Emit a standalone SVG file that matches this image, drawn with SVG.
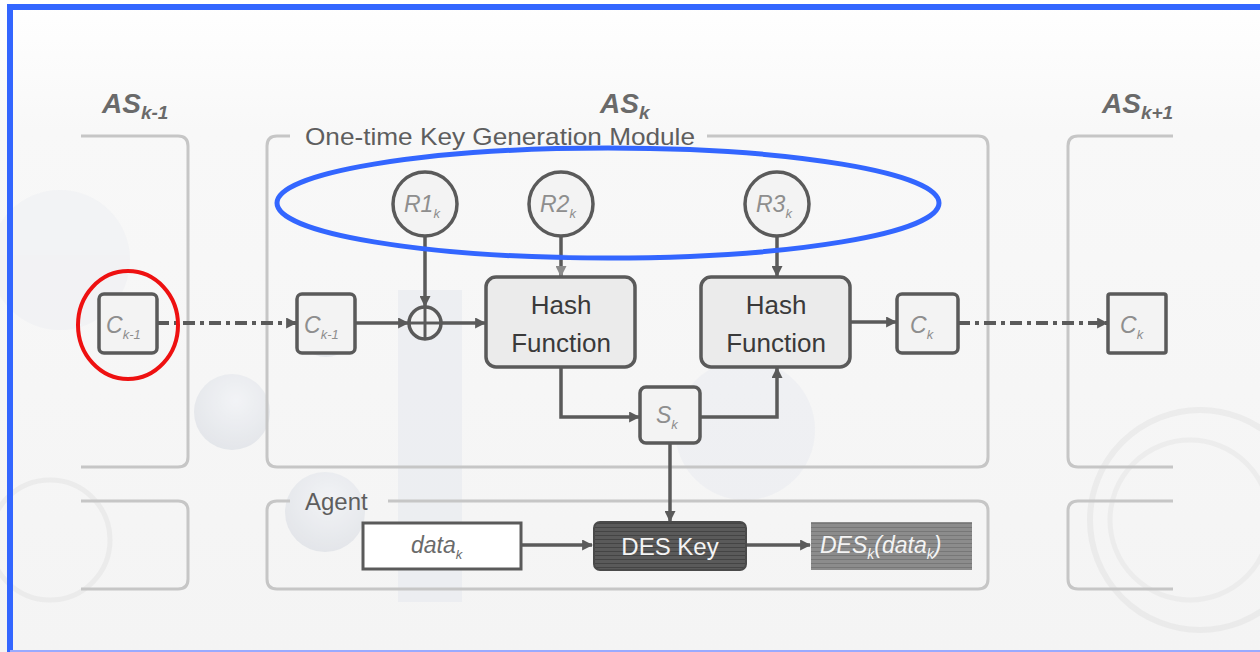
<svg xmlns="http://www.w3.org/2000/svg" width="1260" height="652" viewBox="0 0 1260 652">
<defs>
<linearGradient id="bg" x1="0" y1="0" x2="0" y2="1">
<stop offset="0" stop-color="#ffffff"/>
<stop offset="0.2" stop-color="#f8f8f8"/>
<stop offset="1" stop-color="#f4f4f4"/>
</linearGradient>
<radialGradient id="sph" cx="0.55" cy="0.35" r="0.65">
<stop offset="0" stop-color="#eef1f7"/>
<stop offset="1" stop-color="#cfd4dd"/>
</radialGradient>
<pattern id="stripeDark" width="4" height="4" patternUnits="userSpaceOnUse">
<rect width="4" height="4" fill="#5a5a5a"/>
<rect y="3" width="4" height="1" fill="#444"/>
</pattern>
<pattern id="stripeMid" width="4" height="4" patternUnits="userSpaceOnUse">
<rect width="4" height="4" fill="#8c8c8c"/>
<rect y="3" width="4" height="1" fill="#777"/>
</pattern>
<marker id="ah" viewBox="0 0 10 10" refX="9" refY="5" markerWidth="11" markerHeight="11" markerUnits="userSpaceOnUse" orient="auto">
<path d="M0,0 L10,5 L0,10 z" fill="#5a5a5a"/>
</marker>
<marker id="ahl" viewBox="0 0 10 10" refX="9" refY="5" markerWidth="11" markerHeight="11" markerUnits="userSpaceOnUse" orient="auto">
<path d="M0,0 L10,5 L0,10 z" fill="#8a8a8a"/>
</marker>
</defs>
<style>
.panel{fill:none;stroke:#c6c6c6;stroke-width:3}
.node{fill:#f3f3f3;stroke:#5a5a5a;stroke-width:3.5}
.hash{fill:#ebebeb;stroke:#5a5a5a;stroke-width:3.5}
.sym{font-family:"Liberation Sans",Arial,sans-serif;font-style:italic;fill:#8e8e8e}
.sub{font-size:13px}
.hdr{font-family:"Liberation Sans",Arial,sans-serif;font-style:italic;font-weight:bold;fill:#6a6a6a}
.ttl{font-family:"Liberation Sans",Arial,sans-serif;fill:#5e5e5e;font-size:24px}
.htxt{font-family:"Liberation Sans",Arial,sans-serif;fill:#3a3a3a;font-size:26px;text-anchor:middle}
.conn{fill:none;stroke:#5a5a5a;stroke-width:3.5}
.dd{stroke-dasharray:12 5 4 5;stroke-width:4}
.wt{font-family:"Liberation Sans",Arial,sans-serif;fill:#f4f4f4}
</style>
<rect x="0" y="0" width="1260" height="652" fill="url(#bg)"/>
<g id="background" opacity="0.45">
<rect x="398" y="290" width="64" height="312" fill="#e3e6ee"/>
<circle cx="232" cy="412" r="38" fill="url(#sph)"/>
<circle cx="326" cy="327" r="30" fill="url(#sph)"/>
<circle cx="325" cy="512" r="40" fill="url(#sph)"/>
<circle cx="745" cy="430" r="70" fill="#e6e9ef"/>
<circle cx="60" cy="260" r="70" fill="#eceef2"/>
<circle cx="1200" cy="520" r="110" fill="none" stroke="#e0e0e0" stroke-width="6"/>
<circle cx="1190" cy="520" r="80" fill="none" stroke="#e3e3e3" stroke-width="5"/>
<circle cx="50" cy="540" r="60" fill="none" stroke="#e0e0e0" stroke-width="5"/>
</g>
<g id="frame">
<line x1="7" y1="7" x2="1260" y2="7" stroke="#3366ff" stroke-width="6"/>
<line x1="10" y1="4" x2="10" y2="652" stroke="#3366ff" stroke-width="6"/>
<line x1="10" y1="651" x2="1260" y2="651" stroke="#99aaff" stroke-width="2"/>
</g>
<g id="panels">
<path class="panel" d="M81,136 H178 Q188,136 188,146 V457 Q188,467 178,467 H81"/>
<path class="panel" d="M81,501 H178 Q188,501 188,511 V579 Q188,589 178,589 H81"/>
<path class="panel" d="M290,136 H277 Q267,136 267,146 V457 Q267,467 277,467 H978 Q988,467 988,457 V146 Q988,136 978,136 H707"/>
<path class="panel" d="M290,501 H277 Q267,501 267,511 V579 Q267,589 277,589 H978 Q988,589 988,579 V511 Q988,501 978,501 H388"/>
<path class="panel" d="M1173,136 H1078 Q1068,136 1068,146 V457 Q1068,467 1078,467 H1173"/>
<path class="panel" d="M1173,501 H1078 Q1068,501 1068,511 V579 Q1068,589 1078,589 H1173"/>
</g>
<g id="labels">
<text class="hdr" x="102" y="113" font-size="28">AS<tspan font-size="19" dy="6">k-1</tspan></text>
<text class="hdr" x="600" y="113" font-size="28">AS<tspan font-size="19" dy="6">k</tspan></text>
<text class="hdr" x="1102" y="113" font-size="28">AS<tspan font-size="19" dy="6">k+1</tspan></text>
<text class="ttl" x="305" y="145" textLength="390" lengthAdjust="spacingAndGlyphs">One-time Key Generation Module</text>
<text class="ttl" x="305" y="510">Agent</text>
</g>
<g id="connectors">
<line class="conn dd" x1="157" y1="323" x2="296" y2="323" marker-end="url(#ah)"/>
<line class="conn" x1="355" y1="323" x2="408" y2="323" stroke-width="5" marker-end="url(#ah)"/>
<line class="conn" x1="425" y1="237" x2="425" y2="306" marker-end="url(#ah)"/>
<line class="conn" x1="441" y1="323" x2="485" y2="323" marker-end="url(#ah)"/>
<line class="conn" x1="561" y1="237" x2="561" y2="276" stroke="#999" marker-end="url(#ahl)"/>
<line class="conn" x1="777" y1="237" x2="777" y2="276" marker-end="url(#ah)"/>
<polyline class="conn" points="561,367 561,417 639,417" marker-end="url(#ah)"/>
<polyline class="conn" points="700,417 777,417 777,368" marker-end="url(#ah)"/>
<line class="conn" x1="850" y1="322" x2="896" y2="322" marker-end="url(#ah)"/>
<line class="conn dd" x1="958" y1="323" x2="1107" y2="323" marker-end="url(#ah)"/>
<line class="conn" x1="670" y1="443" x2="670" y2="521" marker-end="url(#ah)"/>
<line class="conn" x1="521" y1="545" x2="592" y2="545" marker-end="url(#ah)"/>
<line class="conn" x1="746" y1="545" x2="810" y2="545" marker-end="url(#ah)"/>
</g>
<g id="node-cprev-left">
<rect class="node" x="99" y="294" width="58" height="59" rx="5"/>
<text class="sym" x="106" y="333" font-size="23">C<tspan class="sub" dy="6">k-1</tspan></text>
</g>
<g id="node-cprev">
<rect class="node" x="297" y="294" width="58" height="59" rx="5"/>
<text class="sym" x="304" y="333" font-size="23">C<tspan class="sub" dy="6">k-1</tspan></text>
</g>
<g id="node-xor">
<circle class="node" cx="425" cy="323" r="16"/>
<line x1="409" y1="323" x2="441" y2="323" stroke="#5a5a5a" stroke-width="3"/>
<line x1="425" y1="307" x2="425" y2="339" stroke="#5a5a5a" stroke-width="3"/>
</g>
<g id="node-r1">
<circle class="node" cx="425" cy="204" r="32"/>
<text class="sym" x="404" y="212" font-size="23">R1<tspan class="sub" dy="6">k</tspan></text>
</g>
<g id="node-r2">
<circle class="node" cx="561" cy="204" r="32"/>
<text class="sym" x="540" y="212" font-size="23">R2<tspan class="sub" dy="6">k</tspan></text>
</g>
<g id="node-r3">
<circle class="node" cx="777" cy="204" r="32"/>
<text class="sym" x="756" y="212" font-size="23">R3<tspan class="sub" dy="6">k</tspan></text>
</g>
<g id="node-hash1">
<rect class="hash" x="486" y="277" width="149" height="90" rx="10"/>
<text class="htxt" x="561" y="314">Hash</text>
<text class="htxt" x="561" y="352">Function</text>
</g>
<g id="node-hash2">
<rect class="hash" x="701" y="277" width="149" height="90" rx="10"/>
<text class="htxt" x="776" y="314">Hash</text>
<text class="htxt" x="776" y="352">Function</text>
</g>
<g id="node-sk">
<rect class="node" x="640" y="387" width="60" height="56" rx="6"/>
<text class="sym" x="656" y="423" font-size="23">S<tspan class="sub" dy="6">k</tspan></text>
</g>
<g id="node-ck">
<rect class="node" x="897" y="294" width="61" height="59" rx="5"/>
<text class="sym" x="910" y="333" font-size="23">C<tspan class="sub" dy="6">k</tspan></text>
</g>
<g id="node-ck-right">
<rect class="node" x="1108" y="294" width="58" height="59" rx="2"/>
<text class="sym" x="1120" y="333" font-size="23">C<tspan class="sub" dy="6">k</tspan></text>
</g>
<g id="node-data">
<rect x="363" y="523" width="158" height="46" fill="#ffffff" stroke="#5a5a5a" stroke-width="3"/>
<text class="sym" x="411" y="553" font-size="23" style="fill:#6a6a6a">data<tspan class="sub" dy="6">k</tspan></text>
</g>
<g id="node-deskey">
<rect x="594" y="522" width="152" height="48" rx="6" fill="url(#stripeDark)" stroke="#4a4a4a" stroke-width="2"/>
<text class="wt" x="670" y="555" font-size="24" text-anchor="middle">DES Key</text>
</g>
<g id="node-desout">
<rect x="811" y="522" width="161" height="48" fill="url(#stripeMid)"/>
<text class="wt" x="820" y="553" font-size="23" font-style="italic">DES<tspan font-size="14" dy="6">k</tspan><tspan dy="-6">(data</tspan><tspan font-size="14" dy="6">k</tspan><tspan dy="-6">)</tspan></text>
</g>
<g id="highlights">
<ellipse cx="128" cy="325" rx="50" ry="54" fill="none" stroke="#ee1111" stroke-width="4"/>
<ellipse cx="608" cy="203" rx="331" ry="55" fill="none" stroke="#3366ff" stroke-width="5"/>
</g>
</svg>
